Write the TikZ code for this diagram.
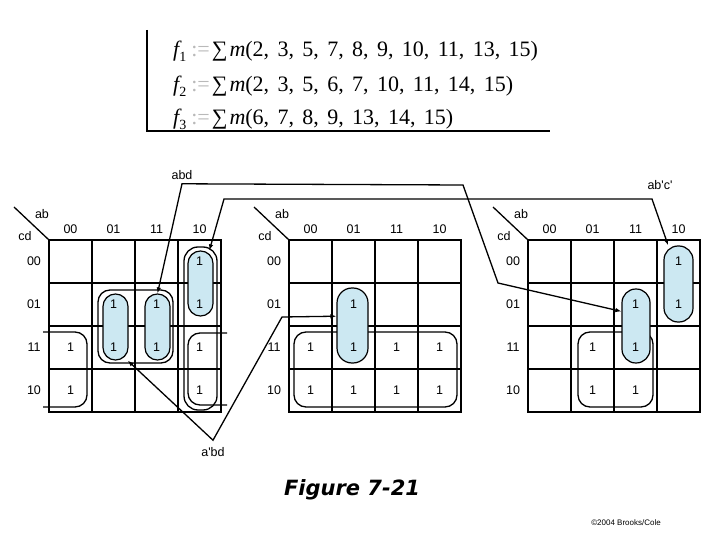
\documentclass[tikz,border=0pt]{standalone}
\usepackage{fontspec}
\setmainfont{Liberation Sans}[Ligatures=TeXOff]
\newfontfamily\tnr{Liberation Serif}
\newfontfamily\figfont{DejaVu Sans}
\usetikzlibrary{arrows.meta}
\definecolor{kblue}{RGB}{204,232,242}
\tikzset{
  gridln/.style={line width=2.6pt},
  thinln/.style={line width=1.3pt},
  lbl/.style={font=\fontsize{12.5}{14}\selectfont, inner sep=0pt},
  grp/.style={draw, line width=1.3pt, rounded corners=12pt, inner sep=0pt},
  bluegrp/.style={draw, line width=1.2pt, fill=kblue, inner sep=0pt},
  conn/.style={line width=1.3pt, {Latex[length=6pt,width=4.5pt]}-{Latex[length=6pt,width=4.5pt]}},
}
\newcommand\kgrid[2]{%
  \draw[gridln] (#1,240) rectangle ++(172,172);
  \foreach \i in {1,2,3}{
    \draw[gridln] (#1+43*\i,240) -- ++(0,172);
    \draw[gridln] (#1,240+43*\i) -- ++(172,0);
  }
  \foreach \t [count=\i from 0] in {00,01,11,10}{
    \node[lbl] (#2c\t) at (#1+21.5+43*\i,229) {\t};
    \node[lbl] (#2r\t) at (#1-15,261.5+43*\i) {\t};
  }
  \node[lbl] (#2ab) at (#1-7,214) {ab};
  \node[lbl] (#2cd) at (#1-24,236) {cd};
  \draw[thinln] (#1-35,207) -- (#1,240);
}
\newcommand\fline[2]{{\tnr\itshape f}\raisebox{-5pt}{\tnr\fontsize{14}{14}\selectfont #1}\hspace{5pt}{\color{gray!55}\tnr :=}\hspace{2pt}{\tnr ∑}\hspace{2pt}{\tnr\itshape m}{\tnr\spaceskip=0.38em\relax (#2)}}
\begin{document}
\begin{tikzpicture}[x=1pt,y=-1pt]
\useasboundingbox (0,0) rectangle (720,540);
% formulas
\draw[line width=1.3pt] (147,30) -- (147,131) -- (550,131);
\begin{scope}[every node/.style={anchor=base west, inner sep=0pt, font=\fontsize{22}{24}\selectfont}]
\node (f1) at (173,57) {\fline{1}{2, 3, 5, 7, 8, 9, 10, 11, 13, 15}};
\node (f2) at (173,92) {\fline{2}{2, 3, 5, 6, 7, 10, 11, 14, 15}};
\node (f3) at (173,125) {\fline{3}{6, 7, 8, 9, 13, 14, 15}};
\end{scope}
% grids
\kgrid{49}{A}
\kgrid{289}{B}
\kgrid{528}{C}
% outline groups
\node[grp, minimum width=75pt, minimum height=73pt] (g1bd) at (135.5,326.5) {};
\node[grp, rounded corners=14pt, minimum width=33pt, minimum height=163pt] (g1ab) at (200.5,328.5) {};
\draw[thinln, rounded corners=12pt] (43,332) -- (87,332) -- (87,407) -- (43,407);
\draw[thinln, rounded corners=12pt] (227,333) -- (188,333) -- (188,405) -- (227,405);
\node[grp, minimum width=163pt, minimum height=75pt] (g2c) at (375.5,369.5) {};
\node[grp, minimum width=75pt, minimum height=75pt] (g3bc) at (615.5,369.5) {};
% blue groups
\node[bluegrp, rounded corners=12.4pt, minimum width=25pt, minimum height=66pt] (g1apbd) at (115.5,327) {};
\node[bluegrp, rounded corners=12.4pt, minimum width=25pt, minimum height=66pt] (g1abd) at (157.5,327) {};
\node[bluegrp, rounded corners=12.4pt, minimum width=25pt, minimum height=65pt] (g1abc) at (200.5,283.5) {};
\node[bluegrp, rounded corners=15pt, minimum width=31pt, minimum height=75pt] (g2apbd) at (352.5,325.5) {};
\node[bluegrp, rounded corners=13.8pt, minimum width=28pt, minimum height=74pt] (g3abd) at (636,326) {};
\node[bluegrp, rounded corners=14pt, minimum width=29pt, minimum height=76pt] (g3abc) at (678.5,284) {};
% ones
\foreach \x/\y [count=\k] in {70.5/347.5,70.5/390.5,113.5/304.5,113.5/347.5,156.5/304.5,156.5/347.5,199.5/261.5,199.5/304.5,199.5/347.5,199.5/390.5}
  \node[lbl] (oA\k) at (\x,\y) {1};
\foreach \x/\y [count=\k] in {310.5/347.5,310.5/390.5,353.5/304.5,353.5/347.5,353.5/390.5,396.5/347.5,396.5/390.5,439.5/347.5,439.5/390.5}
  \node[lbl] (oB\k) at (\x,\y) {1};
\foreach \x/\y [count=\k] in {592.5/347.5,592.5/390.5,635.5/304.5,635.5/347.5,635.5/390.5,678.5/261.5,678.5/304.5}
  \node[lbl] (oC\k) at (\x,\y) {1};
% connector labels
\node[lbl] (Labd) at (182,175) {abd};
\node[lbl] (Labc) at (660,185) {ab'c'};
\node[lbl] (Lapbd) at (213,452) {a'bd};
\coordinate (b1) at (463,185);
\coordinate (b2) at (498,283);
\coordinate (b3) at (224,199);
\coordinate (b4) at (652,199);
\coordinate (b5) at (282,317);
% connectors
\draw[conn] (g1abd.north) -- ([yshift=-4pt]Labd.south) -- (b1) -- (b2) -- (g3abd.135);
\draw[conn] (g1abc.75) -- (b3) -- (b4) -- (g3abc.105);
\draw[conn] (g1apbd.-70) -- ([yshift=7pt]Lapbd.north) -- (b5) -- (g2apbd.150);
% captions
\node[font=\figfont\bfseries\itshape\fontsize{21}{24}\selectfont, inner sep=0pt] (fig) at (352,490) {Figure 7-21};
\node[font=\fontsize{8}{9}\selectfont, inner sep=0pt] (copy) at (626,523) {©2004 Brooks/Cole};
\end{tikzpicture}
\end{document}
